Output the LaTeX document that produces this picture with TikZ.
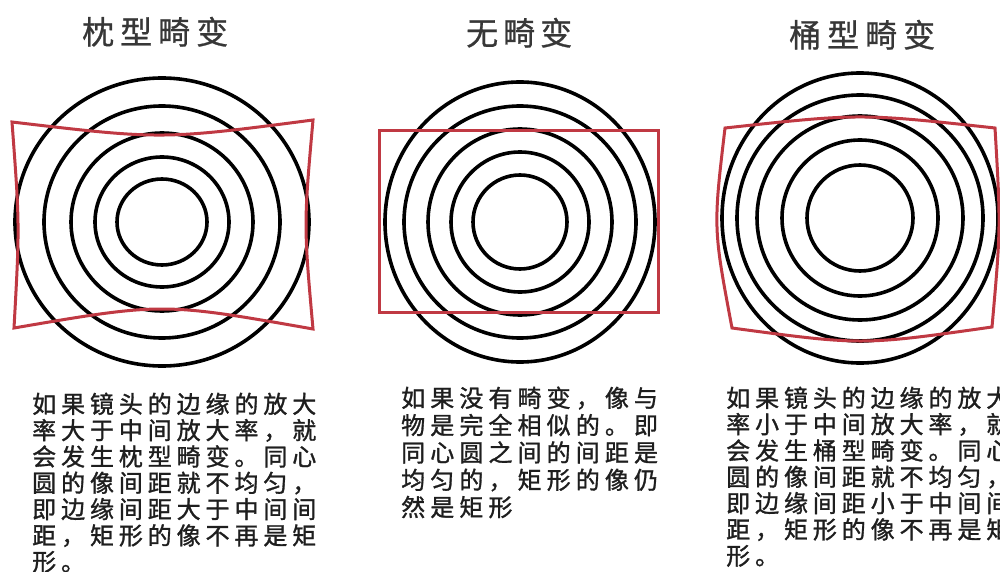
\documentclass[tikz,border=0pt]{standalone}
\usepackage{fontspec}
\newfontfamily\cjk[FakeBold=1.2]{Noto Sans CJK SC}
\newfontfamily\cjkt[FakeBold=0.8]{Noto Sans CJK SC}
\definecolor{redline}{RGB}{192,57,67}
\definecolor{titlegray}{RGB}{55,55,55}
\definecolor{bodygray}{RGB}{30,30,30}
\makeatletter
\newcommand\spacedline[2]{\def\sp@w{#1}\sp@loop#2\relax}
\def\sp@loop#1{\ifx\relax#1\else\makebox[\sp@w][l]{#1}\expandafter\sp@loop\fi}
\makeatother
\tikzset{
  ring/.style={line width=3.6pt, draw=black},
  distort/.style={line width=3pt, draw=redline, line join=miter},
  titletext/.style={font=\cjkt\fontsize{32}{38}\selectfont, text=titlegray, anchor=base west, inner sep=0pt},
  bodytext/.style={font=\cjk\fontsize{24}{26}\selectfont, text=bodygray, anchor=base west, inner sep=0pt}
}
\begin{document}
\begin{tikzpicture}[x=1pt,y=-1pt]
\useasboundingbox (0,0) rectangle (1000,572);
\clip (0,0) rectangle (1000,572);
\fill[white] (0,0) rectangle (1000,572);

% titles
\node[titletext] (t1) at (82,44) {\spacedline{38pt}{枕型畸变}};
\node[titletext] (t2) at (466,45) {\spacedline{37pt}{无畸变}};
\node[titletext] (t3) at (789,47) {\spacedline{38pt}{桶型畸变}};

% left: pincushion
\foreach \rx/\ry in {147/144,118/116,91/89,67/65,45/43}
  \draw[ring] (162,222) ellipse [x radius=\rx pt, y radius=\ry pt];
\draw[distort] (12,122) .. controls (162,139.7) .. (313,120)
  .. controls (303.7,224.7) .. (313,329)
  .. controls (162.8,302.5) .. (14,328)
  .. controls (19.7,225) .. cycle;

% middle: no distortion
\foreach \rx/\ry in {135/140,116/116,92/93,69/70,47/47}
  \draw[ring] (520,222) ellipse [x radius=\rx pt, y radius=\ry pt];
\draw[distort] (379,131) rectangle (658,312);

% right: barrel
\foreach \rx/\ry in {138/145,123/123,103/102,78/78,53/53}
  \draw[ring] (860,218) ellipse [x radius=\rx pt, y radius=\ry pt];
\draw[distort] (725,128) .. controls (860,113.3) .. (995,128)
  .. controls (1000.8,227.7) .. (992,327)
  .. controls (862,345.5) .. (732,328)
  .. controls (713.2,228) .. cycle;

% left text
\node[bodytext] (a1) at (32,413.0) {\spacedline{28.9pt}{如果镜头的边缘的放大}};
\node[bodytext] (a2) at (32,439.3) {\spacedline{28.9pt}{率大于中间放大率，就}};
\node[bodytext] (a3) at (32,465.6) {\spacedline{28.9pt}{会发生枕型畸变。同心}};
\node[bodytext] (a4) at (32,491.9) {\spacedline{28.9pt}{圆的像间距就不均匀，}};
\node[bodytext] (a5) at (32,518.2) {\spacedline{28.9pt}{即边缘间距大于中间间}};
\node[bodytext] (a6) at (32,544.5) {\spacedline{28.9pt}{距，矩形的像不再是矩}};
\node[bodytext] (a7) at (32,570.8) {\spacedline{28.9pt}{形。}};

% middle text
\node[bodytext] (b1) at (401,407.0) {\spacedline{29.1pt}{如果没有畸变，像与}};
\node[bodytext] (b2) at (401,434.3) {\spacedline{29.1pt}{物是完全相似的。即}};
\node[bodytext] (b3) at (401,461.6) {\spacedline{29.1pt}{同心圆之间的间距是}};
\node[bodytext] (b4) at (401,488.9) {\spacedline{29.1pt}{均匀的，矩形的像仍}};
\node[bodytext] (b5) at (401,516.2) {\spacedline{29.1pt}{然是矩形}};

% right text
\node[bodytext] (c1) at (726,407.0) {\spacedline{28.9pt}{如果镜头的边缘的放大}};
\node[bodytext] (c2) at (726,433.3) {\spacedline{28.9pt}{率小于中间放大率，就}};
\node[bodytext] (c3) at (726,459.6) {\spacedline{28.9pt}{会发生桶型畸变。同心}};
\node[bodytext] (c4) at (726,485.9) {\spacedline{28.9pt}{圆的像间距就不均匀，}};
\node[bodytext] (c5) at (726,512.2) {\spacedline{28.9pt}{即边缘间距小于中间间}};
\node[bodytext] (c6) at (726,538.5) {\spacedline{28.9pt}{距，矩形的像不再是矩}};
\node[bodytext] (c7) at (726,564.8) {\spacedline{28.9pt}{形。}};
\end{tikzpicture}
\end{document}
